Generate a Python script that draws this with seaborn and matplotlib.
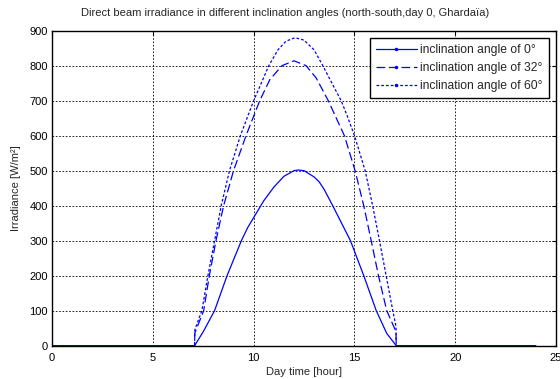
import numpy as np
import pandas as pd
import matplotlib
matplotlib.use("Agg")
import matplotlib.pyplot as plt
from matplotlib.lines import Line2D
import seaborn as sns

# ---- data ----
hours_0 = [0, 7.07, 7.5, 8.06, 8.68, 9.39, 9.7, 10.0, 10.5, 11.0, 11.5, 12.0, 12.2,
           12.5, 13.0, 13.25, 13.5, 13.92, 14.8, 15.46, 16.08, 16.6, 17.07, 24]
irr_0 = [0, 0, 40, 100, 200, 300, 337, 366, 414, 453, 484, 500, 502,
         500, 482, 468, 446, 400, 300, 200, 100, 35, 0, 0]

hours_32 = [0, 7.07, 7.08, 7.52, 7.8, 8.13, 8.51, 9.0, 9.62, 10.3, 10.8, 11.4,
            12.0, 12.6, 13.1, 13.7, 14.5, 15.03, 15.46, 15.83, 16.19, 16.6,
            17.06, 17.07, 24]
irr_32 = [0, 0, 36, 100, 200, 300, 400, 500, 600, 700, 760, 800,
          814, 800, 765, 700, 600, 500, 400, 300, 200, 100,
          40, 0, 0]

hours_60 = [0, 7.07, 7.08, 7.43, 7.73, 8.06, 8.39, 8.8, 9.34, 10.0, 10.75,
            11.2, 11.6, 12.05, 12.5, 13.0, 13.43, 13.9, 14.34, 14.65, 15.0, 15.53,
            15.9, 16.24, 16.57, 16.9, 17.06, 17.07, 24]
irr_60 = [0, 0, 45, 100, 200, 300, 400, 500, 600, 700, 800,
          845, 870, 880, 873, 845, 800, 748, 700, 655, 600, 500,
          400, 300, 200, 100, 55, 0, 0]

labels = ["inclination angle of 0\u00b0", "inclination angle of 32\u00b0",
          "inclination angle of 60\u00b0"]
title = "Direct beam irradiance in different inclination angles (north-south,day 0, Ghardaïa)"
xlabel = "Day time [hour]"
ylabel = "Irradiance [W/m\u00b2]"
xticks = [0, 5, 10, 15, 20, 25]
yticks = [0, 100, 200, 300, 400, 500, 600, 700, 800, 900]

sns.set_style("white")
plt.rcParams['font.family'] = ['Liberation Sans', 'DejaVu Sans']

fig = plt.figure(figsize=(5.6, 3.79), dpi=100)
ax = fig.add_axes([0.093, 0.088, 0.900, 0.831])

blue = "#0000ff"
styles = ["-", (0, (7, 3)), (0, (2.2, 1.6))]
frames = [pd.DataFrame({"h": hours_0, "v": irr_0}),
          pd.DataFrame({"h": hours_32, "v": irr_32}),
          pd.DataFrame({"h": hours_60, "v": irr_60})]

for df, ls in zip(frames, styles):
    sns.lineplot(data=df, x="h", y="v", ax=ax, color=blue, linewidth=0.9,
                 linestyle=ls, estimator=None, sort=False)

ax.set_xlim(0, 25)
ax.set_ylim(0, 900)
ax.set_xticks(xticks)
ax.set_yticks(yticks)
ax.tick_params(axis="both", direction="in", length=3, labelsize=8, colors="black",
               top=True, right=True)
ax.tick_params(axis="x", pad=5)
ax.tick_params(axis="y", pad=3)
ax.grid(True, color="black", linestyle=(0, (2, 2)), linewidth=0.6)
for s in ax.spines.values():
    s.set_color("black")
    s.set_linewidth(1.0)

fig.text(285 / 560, 1 - 13 / 379, title, fontsize=8, ha="center", va="center")
ax.set_xlabel(xlabel, fontsize=8, labelpad=3)
ax.set_ylabel(ylabel, fontsize=8, labelpad=6)

handles = [Line2D([], [], color=blue, linewidth=0.9, linestyle=ls, marker=".",
                  markersize=3) for ls in styles]
leg = ax.legend(handles, labels, loc="upper right", fontsize=8.7, frameon=True,
                fancybox=False, edgecolor="black", framealpha=1,
                borderaxespad=0.6, handlelength=3.4, handletextpad=0.3,
                labelspacing=0.5, borderpad=0.5)
leg.get_frame().set_linewidth(1.0)

fig.savefig("out.png", dpi=100)
